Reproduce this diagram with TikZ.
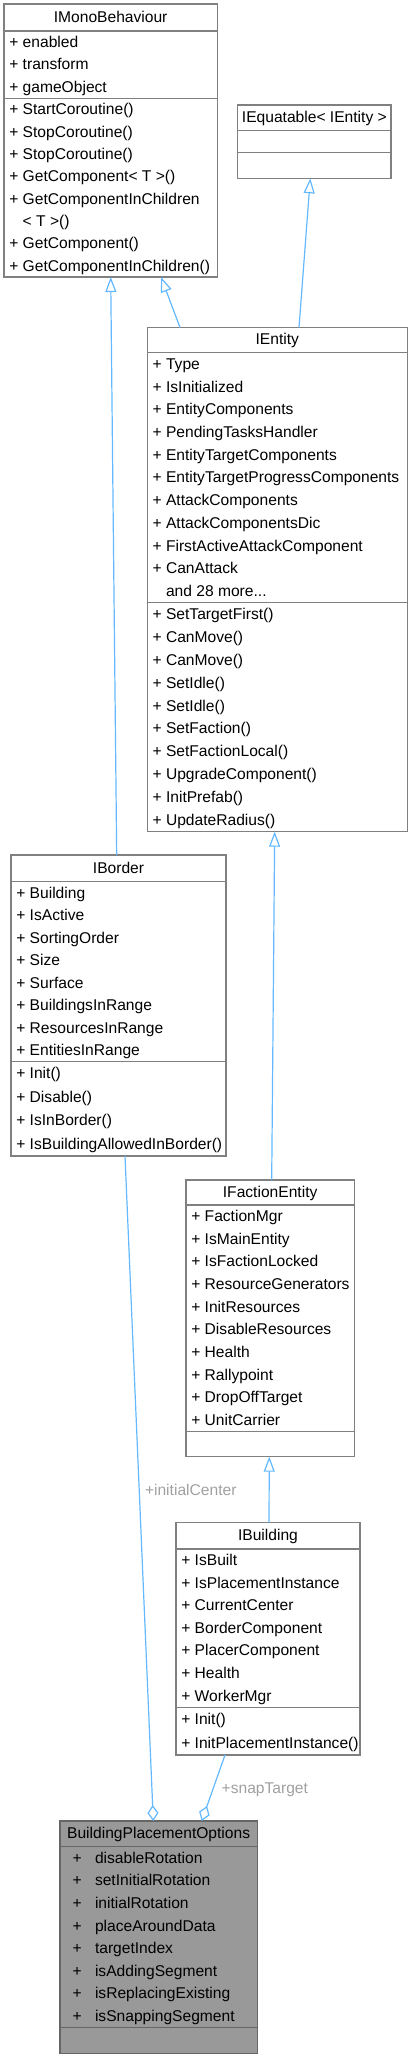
\documentclass[tikz,border=0pt]{standalone}
\usepackage{fontspec}
\setmainfont{Liberation Sans}
\usetikzlibrary{arrows.meta}
\definecolor{edgeblue}{HTML}{63B8FF}
\definecolor{boxline}{HTML}{808080}
\definecolor{lblgray}{HTML}{A0A0A0}
\definecolor{bpofill}{HTML}{999999}
\definecolor{bpoline}{HTML}{666666}
\tikzset{
  cls/.style={draw=boxline, line width=1.2pt, fill=white, inner sep=0pt, outer sep=0pt, rectangle},
  sepline/.style={draw=boxline, line width=1.2pt},
  txt/.style={font=\fontsize{15.6}{18}\selectfont, inner sep=0pt, outer sep=0pt, text height=11pt, text depth=3.5pt},
  rowtxt/.style={txt, anchor=west},
  ttl/.style={txt, anchor=center},
  inh/.style={draw=edgeblue, line width=1.2pt, -{Triangle[open, length=15pt, width=11pt]}},
  agg/.style={draw=edgeblue, line width=1.2pt, -{Diamond[open, length=16pt, width=11pt]}},
  elabel/.style={txt, anchor=west, text=lblgray},
}
\newcommand{\andmoretext}{and 28 more...}
\newcommand{\umlclass}[9]{%
  \node[cls,#9,minimum width={(#4)-(#2)},minimum height={(#5)-(#3)}] (#1) at ({((#2)+(#4))/2},{((#3)+(#5))/2}) {};
  \draw[sepline,#9] (#2,#6) -- (#4,#6);
  \draw[sepline,#9] (#2,#7) -- (#4,#7);
  \node[ttl] (#1-title) at ({((#2)+(#4))/2},{((#3)+(#6))/2+1}) {#8};
}
\newcommand{\umlrows}[5]{%
  \foreach \rowtext [count=\i] in {#5} {
    \node[rowtxt] (#1\i) at (#2, {#3 + (\i-0.5)*#4 + 1.5}) {\rowtext};
  }
}
\begin{document}
\begin{tikzpicture}[x=1pt,y=-1pt]
\useasboundingbox (0,0) rectangle (413,2059);

% IMonoBehaviour
\umlclass{mb}{4}{4}{217.3}{277}{31}{98.3}{IMonoBehaviour}{}
\umlrows{mba}{9.3}{31}{22.43}{{+ enabled},{+ transform},{+ gameObject}}
\umlrows{mbm}{9.3}{98.3}{22.34}{{+ StartCoroutine()},{+ StopCoroutine()},{+ StopCoroutine()},{+ GetComponent< T >()},{+ GetComponentInChildren},{\phantom{+}\ < T >()},{+ GetComponent()},{+ GetComponentInChildren()}}

% IEquatable
\umlclass{eq}{237.7}{105}{391}{178.3}{130.7}{152.7}{IEquatable< IEntity >}{}

% IEntity
\umlclass{ie}{147.3}{327.5}{407.3}{831.7}{352.7}{602.7}{IEntity}{}
\umlrows{iea}{152.6}{352.7}{22.73}{{+ Type},{+ IsInitialized},{+ EntityComponents},{+ PendingTasksHandler},{+ EntityTargetComponents},{+ EntityTargetProgressComponents},{+ AttackComponents},{+ AttackComponentsDic},{+ FirstActiveAttackComponent},{+ CanAttack},{\phantom{+}\ \andmoretext}}
\umlrows{iem}{152.6}{602.7}{22.9}{{+ SetTargetFirst()},{+ CanMove()},{+ CanMove()},{+ SetIdle()},{+ SetIdle()},{+ SetFaction()},{+ SetFactionLocal()},{+ UpgradeComponent()},{+ InitPrefab()},{+ UpdateRadius()}}

% IBorder
\umlclass{ib}{11}{855}{226}{1156}{881.7}{1061.7}{IBorder}{}
\umlrows{iba}{16.3}{881.7}{22.5}{{+ Building},{+ IsActive},{+ SortingOrder},{+ Size},{+ Surface},{+ BuildingsInRange},{+ ResourcesInRange},{+ EntitiesInRange}}
\umlrows{ibm}{16.3}{1061.7}{23.6}{{+ Init()},{+ Disable()},{+ IsInBorder()},{+ IsBuildingAllowedInBorder()}}

% IFactionEntity
\umlclass{fe}{186}{1180}{354.3}{1456.7}{1205}{1431.7}{IFactionEntity}{}
\umlrows{fea}{191.3}{1205}{22.67}{{+ FactionMgr},{+ IsMainEntity},{+ IsFactionLocked},{+ ResourceGenerators},{+ InitResources},{+ DisableResources},{+ Health},{+ Rallypoint},{+ DropOffTarget},{+ UnitCarrier}}

% IBuilding
\umlclass{bd}{176}{1522.7}{360}{1755}{1549}{1707.3}{IBuilding}{}
\umlrows{bda}{181.3}{1549}{22.6}{{+ IsBuilt},{+ IsPlacementInstance},{+ CurrentCenter},{+ BorderComponent},{+ PlacerComponent},{+ Health},{+ WorkerMgr}}
\umlrows{bdm}{181.3}{1707.3}{23.85}{{+ Init()},{+ InitPlacementInstance()}}

% BuildingPlacementOptions
\umlclass{bpo}{60}{1821}{257.3}{2053.3}{1846.7}{2027.7}{BuildingPlacementOptions}{draw=bpoline,fill=bpofill}
\foreach \rowtext [count=\i] in {disableRotation,setInitialRotation,initialRotation,placeAroundData,targetIndex,isAddingSegment,isReplacingExisting,isSnappingSegment} {
  \node[txt, anchor=center] (bpop\i) at (77.3, {1846.7 + (\i-0.5)*22.6 + 1.5}) {+};
  \node[rowtxt] (bpoa\i) at (95, {1846.7 + (\i-0.5)*22.6 + 1.5}) {\rowtext};
}

% connection points
\coordinate (mb-s1) at (110.7,277);
\coordinate (mb-s2) at (161,277);
\coordinate (eq-s) at (310.3,178.3);
\coordinate (ie-n1) at (180,327.5);
\coordinate (ie-n2) at (299,327.5);
\coordinate (ie-s) at (274.7,831.7);
\coordinate (ib-n) at (116.7,855);
\coordinate (ib-s) at (125,1156);
\coordinate (fe-n) at (271.7,1180);
\coordinate (fe-s) at (269.3,1456.7);
\coordinate (bd-n) at (269,1522.7);
\coordinate (bd-s) at (225,1755);
\coordinate (bpo-n1) at (153.3,1821);
\coordinate (bpo-n2) at (201.7,1821);

% inheritance
\draw[inh] (ie-n1) -- (mb-s2);
\draw[inh] (ie-n2) -- (eq-s);
\draw[inh] (ib-n) -- (mb-s1);
\draw[inh] (fe-n) -- (ie-s);
\draw[inh] (bd-n) -- (fe-s);

% aggregation
\draw[agg] (ib-s) -- (bpo-n1);
\draw[agg] (bd-s) -- (bpo-n2);
\node[elabel] (lblinit) at (145,1491.7) {+initialCenter};
\node[elabel] (lblsnap) at (221.7,1790) {+snapTarget};
\end{tikzpicture}
\end{document}
